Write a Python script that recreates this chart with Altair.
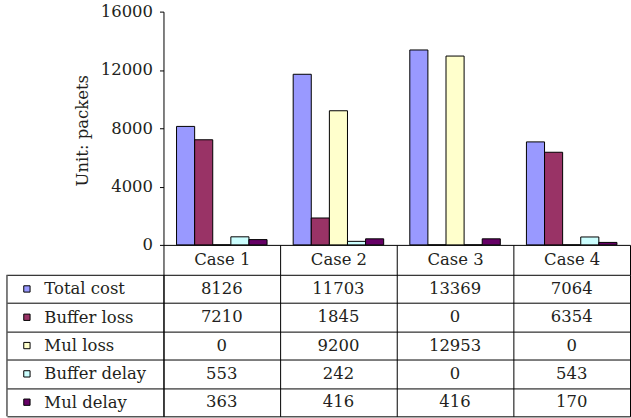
import altair as alt
import pandas as pd

# Cases along the x axis and the five cost components per case
cases = ["Case 1", "Case 2", "Case 3", "Case 4"]
series = ["Total cost", "Buffer loss", "Mul loss", "Buffer delay", "Mul delay"]
total_cost = [8126, 11703, 13369, 7064]
buffer_loss = [7210, 1845, 0, 6354]
mul_loss = [0, 9200, 12953, 0]
buffer_delay = [553, 242, 0, 543]
mul_delay = [363, 416, 416, 170]
colors = ["#9999FF", "#993366", "#FFFFCC", "#CCFFFF", "#660066"]
y_ticks = [0, 4000, 8000, 12000, 16000]

rows = []
for name, vals in zip(series, [total_cost, buffer_loss, mul_loss, buffer_delay, mul_delay]):
    for case, v in zip(cases, vals):
        rows.append({"case": case, "series": name, "value": v})
df = pd.DataFrame(rows)

FONT = "DejaVu Serif"
FONT_SIZE = 16.5
INK = "#231f20"
PLOT_W = 468
BAR_H = 234
TABLE_H = 142
HEADER_H = 30
LABEL_COL = 157

color = alt.Color("series:N", scale=alt.Scale(domain=series, range=colors), legend=None)

# Clustered bars
bars = alt.Chart(df).mark_bar(stroke="black", strokeWidth=1).encode(
    x=alt.X(
        "case:N", sort=cases,
        scale=alt.Scale(paddingInner=0.224, paddingOuter=0.112),
        axis=alt.Axis(title=None, labels=False, ticks=False, domainColor="black"),
    ),
    xOffset=alt.XOffset("series:N", sort=series, scale=alt.Scale(paddingInner=0, paddingOuter=0)),
    y=alt.Y(
        "value:Q", scale=alt.Scale(domain=[0, 16000]),
        axis=alt.Axis(
            values=y_ticks, format="d", grid=False, tickSize=4, labelPadding=7,
            title="Unit: packets", titleX=-76, titleY=119, titleAlign="center",
            titleBaseline="alphabetic", minExtent=LABEL_COL, maxExtent=LABEL_COL,
        ),
    ),
    color=color,
).properties(width=PLOT_W, height=BAR_H)

# Data table below the bars: ruled cells, case headers on top, row names on the left
base = alt.Chart(df).encode(
    x=alt.X(
        "case:N", sort=cases, scale=alt.Scale(paddingInner=0, paddingOuter=0),
        axis=alt.Axis(
            orient="top", title=None, tickBand="extent", tickSize=HEADER_H,
            labelPadding=-HEADER_H / 2, labelBaseline="middle",
            labelAlign="center", labelAngle=0, grid=True, domain=False,
        ),
    ),
    y=alt.Y(
        "series:N", sort=series, scale=alt.Scale(paddingInner=0, paddingOuter=0),
        axis=alt.Axis(
            title=None, tickBand="extent", tickSize=LABEL_COL, labelAlign="left",
            labelPadding=-37, labelBaseline="middle", grid=True,
        ),
    ),
)

cells = base.mark_text(font=FONT, fontSize=FONT_SIZE, color=INK).encode(
    text=alt.Text("value:Q", format="d")
)

swatches = base.transform_filter(alt.datum.case == "Case 1").mark_square(
    size=40, stroke="black", strokeWidth=1, opacity=1
).encode(x=alt.value(-137), color=color)

left_edge = alt.Chart(pd.DataFrame({"edge": ["left"]})).mark_rule(
    color="black", strokeWidth=1
).encode(x=alt.value(-LABEL_COL), y=alt.value(0), y2=alt.value(TABLE_H))

table = alt.layer(cells, swatches, left_edge).properties(width=PLOT_W, height=TABLE_H)

chart = alt.vconcat(bars, table, spacing=HEADER_H, bounds="flush").properties(
    padding={"left": 6, "top": 3, "right": 0, "bottom": 0}
).configure_view(stroke=None).configure_axis(
    labelFont=FONT, titleFont=FONT, labelFontSize=FONT_SIZE, titleFontSize=FONT_SIZE,
    labelColor=INK, titleColor=INK, titleFontWeight="normal",
    domainColor="black", tickColor="black", gridColor="black",
    domainWidth=1, tickWidth=1, gridWidth=1, gridOpacity=1,
)

chart.save("out.html", embed_options={"renderer": "svg", "actions": False})
